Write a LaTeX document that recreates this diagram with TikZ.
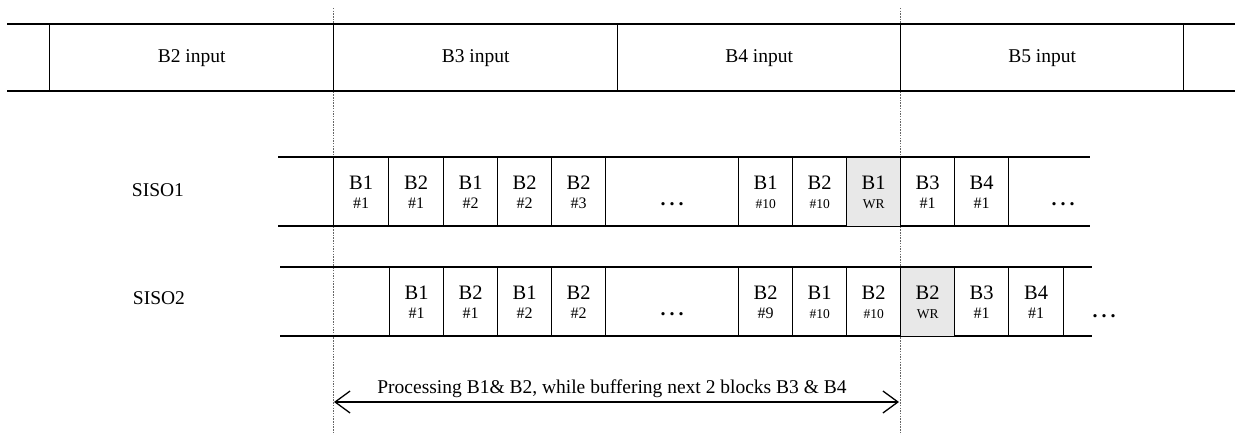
\documentclass[tikz,border=0pt]{standalone}
\usepackage{fontspec}
\setmainfont{Liberation Serif}
\usetikzlibrary{arrows.meta}
\newcommand{\cellpair}[3][16]{#2\\[-1pt]{\fontsize{#1}{#1}\selectfont #3}}
\newcommand{\wdots}{\hbox{\bfseries .\hspace{4pt}.\hspace{4pt}.}}
\begin{document}
\begin{tikzpicture}[x=1pt,y=-1pt,
  frame/.style={draw=black,line width=1.4pt},
  guide/.style={draw=black!60,line width=0.9pt,dash pattern=on 1.5pt off 1.2pt},
  inbox/.style={frame,anchor=north west,minimum height=67pt,inner sep=0pt,font=\fontsize{19.5}{22}\selectfont},
  cellbox/.style={frame,anchor=north west,minimum width=54pt,minimum height=69pt,inner sep=0pt,align=center,font=\fontsize{20.5}{20}\selectfont},
  graycell/.style={cellbox,fill=black!9},
  dotsbox/.style={cellbox,font=\fontsize{20}{20}\selectfont},
  lbl/.style={font=\fontsize{19.5}{22}\selectfont,inner sep=0pt},
  span/.style={line width=1.3pt,{Straight Barb[length=15pt,width=22pt,line width=1.3pt]}-{Straight Barb[length=15pt,width=22pt,line width=1.3pt]}}
]
\useasboundingbox (0,0) rectangle (1235,435);
% guide lines
\coordinate (g1t) at (333,8);
\coordinate (g1b) at (333,435);
\coordinate (g2t) at (900,8);
\coordinate (g2b) at (900,435);
\draw[guide] (g1t) -- (g1b);
\draw[guide] (g2t) -- (g2b);

% top input bar
\coordinate (tl) at (7,24);
\coordinate (tr) at (1235,24);
\coordinate (bl) at (7,91);
\coordinate (br) at (1235,91);
\draw[frame] (tl) -- (tr);
\draw[frame] (bl) -- (br);
\node[inbox,minimum width=284pt] (in2) at (49,24) {B2 input};
\node[inbox,minimum width=284pt] (in3) at (333,24) {B3 input};
\node[inbox,minimum width=283pt] (in4) at (617,24) {B4 input};
\node[inbox,minimum width=283pt] (in5) at (900,24) {B5 input};

% SISO1
\node[lbl] (siso1) at (158,190) {SISO1};
\coordinate (r1ts) at (278,157);
\coordinate (r1te) at (1090,157);
\coordinate (r1bs) at (278,226);
\coordinate (r1be) at (1090,226);
\draw[frame] (r1ts) -- (r1te);
\draw[frame] (r1bs) -- (r1be);
\node[cellbox,minimum width=55pt] (a1) at (333,157) {\cellpair{B1}{\#1}};
\node[cellbox,minimum width=55pt] (a2) at (388,157) {\cellpair{B2}{\#1}};
\node[cellbox] (a3) at (443,157) {\cellpair{B1}{\#2}};
\node[cellbox] (a4) at (497,157) {\cellpair{B2}{\#2}};
\node[cellbox] (a5) at (551,157) {\cellpair{B2}{\#3}};
\node[dotsbox,minimum width=133pt] (a6) at (605,157) {\smash{\raisebox{-13pt}{\wdots}}};
\node[cellbox] (a7) at (738,157) {\cellpair[13.5]{B1}{\#10}};
\node[cellbox] (a8) at (792,157) {\cellpair[13.5]{B2}{\#10}};
\node[graycell] (a9) at (846,157) {\cellpair[13.5]{B1}{WR}};
\node[cellbox] (a10) at (900,157) {\cellpair{B3}{\#1}};
\node[cellbox] (a11) at (954,157) {\cellpair{B4}{\#1}};
\node[lbl,font=\fontsize{20}{20}\selectfont] (a12) at (1063,204) {\wdots};

% SISO2
\node[lbl] (siso2) at (159,298) {SISO2};
\coordinate (r2ts) at (280,267);
\coordinate (r2te) at (1092,267);
\coordinate (r2bs) at (280,336);
\coordinate (r2be) at (1092,336);
\draw[frame] (r2ts) -- (r2te);
\draw[frame] (r2bs) -- (r2be);
\node[cellbox] (b1) at (389,267) {\cellpair{B1}{\#1}};
\node[cellbox] (b2) at (443,267) {\cellpair{B2}{\#1}};
\node[cellbox] (b3) at (497,267) {\cellpair{B1}{\#2}};
\node[cellbox] (b4) at (551,267) {\cellpair{B2}{\#2}};
\node[dotsbox,minimum width=133pt] (b5) at (605,267) {\smash{\raisebox{-13pt}{\wdots}}};
\node[cellbox] (b6) at (738,267) {\cellpair{B2}{\#9}};
\node[cellbox] (b7) at (792,267) {\cellpair[13.5]{B1}{\#10}};
\node[cellbox] (b8) at (846,267) {\cellpair[13.5]{B2}{\#10}};
\node[graycell] (b9) at (900,267) {\cellpair[13.5]{B2}{WR}};
\node[cellbox] (b10) at (954,267) {\cellpair{B3}{\#1}};
\node[cellbox,minimum width=55pt] (b11) at (1008,267) {\cellpair{B4}{\#1}};
\node[lbl,font=\fontsize{20}{20}\selectfont] (b12) at (1104,316) {\wdots};

% span arrow
\coordinate (sl) at (334,402);
\coordinate (sr) at (899,402);
\draw[span] (sl) -- (sr);
\node[lbl] (spantext) at (612,389) {Processing B1\& B2, while buffering next 2 blocks B3 \& B4};
\end{tikzpicture}
\end{document}
